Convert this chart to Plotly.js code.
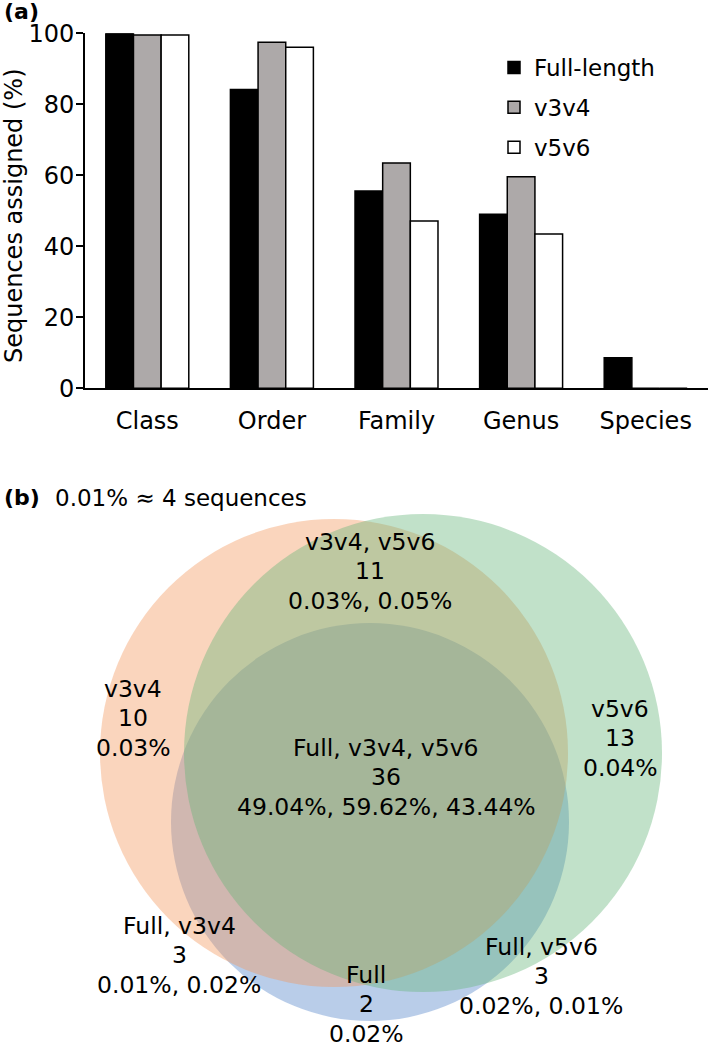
<!DOCTYPE html>
<html>
<head>
<meta charset="utf-8">
<script src="https://cdn.plot.ly/plotly-3.0.1.min.js"></script>
<style>html,body{margin:0;padding:0;background:#fff;}#chart{width:709px;height:1054px;}</style>
</head>
<body>
<div id="chart"></div>
<script>
// ---- data: panel (a) ----
const categories = ['Class', 'Order', 'Family', 'Genus', 'Species'];
const fullLength = [100, 84.2, 55.6, 49.04, 8.6];
const v3v4 = [99.5, 97.5, 63.5, 59.62, 0];
const v5v6 = [99.5, 96.1, 47.1, 43.44, 0];
const seriesNames = ['Full-length', 'v3v4', 'v5v6'];
const yTicks = [0, 20, 40, 60, 80, 100];

// ---- data: panel (b) ----
const vennSets = ['Full', 'v3v4', 'v5v6'];
const vennRegions = ['v3v4, v5v6', 'v3v4', 'Full, v3v4, v5v6', 'v5v6', 'Full, v3v4', 'Full', 'Full, v5v6'];
const vennCounts = [11, 10, 36, 13, 3, 2, 3];
const vennPercents = ['0.03%, 0.05%', '0.03%', '49.04%, 59.62%, 43.44%', '0.04%', '0.01%, 0.02%', '0.02%', '0.02%, 0.01%'];
const vennNote = '0.01% \u2248 4 sequences';

// ---- layout geometry (pixel-space venn axes) ----
const W = 709, H = 1054;
const circleGeom = { Full: [370, 822, 199], v3v4: [334, 753, 234], v5v6: [423, 753, 239] };
const circleStyle = {
  Full: 'rgba(80,130,200,0.4)',
  v3v4: 'rgba(242,150,90,0.4)',
  v5v6: 'rgba(100,180,120,0.4)'
};
const labelPos = [[370, 571], [133, 718], [386, 777], [620, 738], [179, 955], [366, 1004], [541, 976]];
const lineGap = 29.5;

const font = 'DejaVu Sans, sans-serif';
const fills = ['#000000', '#ADA9A9', '#FFFFFF'];
const series = [fullLength, v3v4, v5v6];

const traces = series.map((vals, i) => ({
  type: 'bar',
  x: categories,
  y: vals,
  name: seriesNames[i],
  legendgroup: 'g' + i,
  marker: { color: fills[i], line: { color: '#000', width: 1.5 } },
  xaxis: 'x', yaxis: 'y',
  hoverinfo: 'x+y+name'
}));

const shapes = vennSets.map(s => {
  const [cx, cy, r] = circleGeom[s];
  return {
    type: 'circle', xref: 'x2', yref: 'y2',
    x0: cx - r, x1: cx + r, y0: cy - r, y1: cy + r,
    fillcolor: circleStyle[s], line: { width: 0 }, layer: 'below'
  };
});

const annotations = [];
vennRegions.forEach((name, i) => {
  const lines = [name, String(vennCounts[i]), vennPercents[i]];
  lines.forEach((txt, k) => {
    annotations.push({
      xref: 'x2', yref: 'y2', x: labelPos[i][0], y: labelPos[i][1] + (k - 1) * lineGap,
      text: txt, showarrow: false, align: 'center', xanchor: 'center', yanchor: 'middle',
      borderpad: 0,
      font: { family: font, size: 23.5, color: '#000' }
    });
  });
});
annotations.push(
  { xref: 'paper', yref: 'paper', x: 2 / W, y: 1 - 12 / H, text: '<b>(a)</b>', showarrow: false,
    xanchor: 'left', yanchor: 'middle', font: { family: font, size: 22, color: '#000' } },
  { xref: 'paper', yref: 'paper', x: 2 / W, y: 1 - 498 / H, text: '<b>(b)</b>', showarrow: false,
    xanchor: 'left', yanchor: 'middle', font: { family: font, size: 22, color: '#000' } },
  { xref: 'paper', yref: 'paper', x: 53 / W, y: 1 - 498 / H, text: vennNote, showarrow: false,
    xanchor: 'left', yanchor: 'middle', font: { family: font, size: 23, color: '#000' } },
  { xref: 'paper', yref: 'paper', x: 14 / W, y: 1 - 216 / H, text: 'Sequences assigned (%)', showarrow: false,
    textangle: -90, xanchor: 'center', yanchor: 'middle', font: { family: font, size: 24, color: '#000' } }
);

const layout = {
  width: W, height: H,
  margin: { l: 0, r: 0, t: 0, b: 0, pad: 0 },
  paper_bgcolor: '#fff', plot_bgcolor: 'rgba(0,0,0,0)',
  barmode: 'group', bargap: 0.334, bargroupgap: 0,
  showlegend: true,
  legend: {
    x: 494 / W, y: 1 - 46 / H, xanchor: 'left', yanchor: 'top',
    font: { family: font, size: 23, color: '#000' },
    bgcolor: 'rgba(0,0,0,0)', tracegroupgap: 7, traceorder: 'grouped'
  },
  xaxis: {
    domain: [85 / W, 708 / W], range: [-0.5, 4.5], anchor: 'y',
    showline: true, linecolor: '#000', linewidth: 2, ticks: '', showgrid: false, zeroline: false,
    ticklabelstandoff: 10,
    tickfont: { family: font, size: 24, color: '#000' }, fixedrange: true
  },
  yaxis: {
    domain: [1 - 388.3 / H, 1 - 33.3 / H], range: [0, 100], anchor: 'x',
    tickvals: yTicks, ticktext: yTicks.map(String),
    showline: true, linecolor: '#000', linewidth: 2, ticks: 'outside', ticklen: 7, tickwidth: 2, tickcolor: '#000',
    showgrid: false, zeroline: false, ticklabelstandoff: -3,
    tickfont: { family: font, size: 24, color: '#000' }, fixedrange: true
  },
  xaxis2: { domain: [0, 1], range: [0, W], anchor: 'y2', visible: false, fixedrange: true },
  yaxis2: { domain: [0, 1 - 440 / H], range: [H, 440], anchor: 'x2', visible: false, fixedrange: true },
  shapes: shapes,
  annotations: annotations
};

// invisible anchor trace so the venn axes exist
traces.push({ type: 'scatter', x: [], y: [], xaxis: 'x2', yaxis: 'y2', showlegend: false, hoverinfo: 'skip' });

Plotly.newPlot('chart', traces, layout, { displayModeBar: false, staticPlot: true });
</script>
</body>
</html>
